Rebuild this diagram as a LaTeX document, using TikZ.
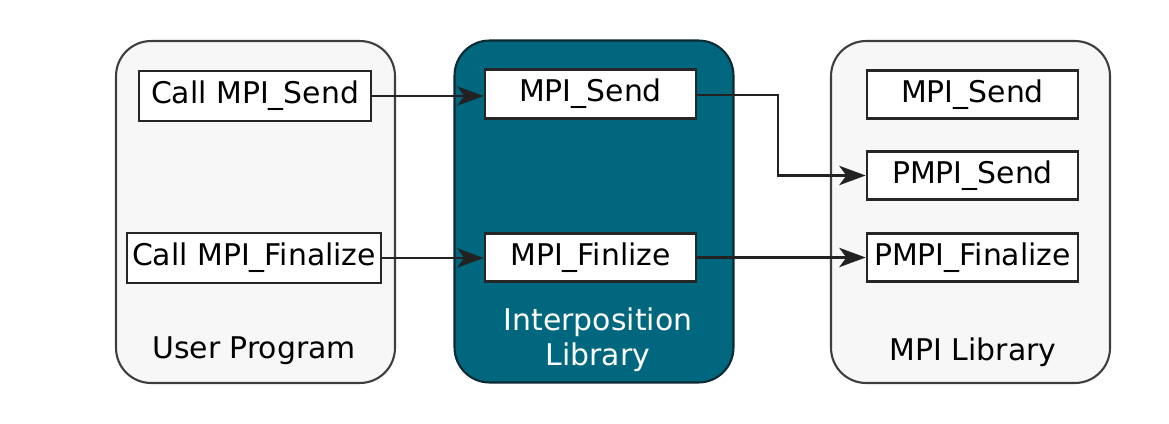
\documentclass[tikz,border=0pt]{standalone}
\usepackage{fontspec}
\setmainfont{DejaVu Sans}
\usetikzlibrary{arrows.meta}
\pgfdeclarelayer{boxlayer}
\pgfdeclarelayer{edgelayer}
\pgfdeclarelayer{nodelayer}
\pgfsetlayers{boxlayer,edgelayer,nodelayer,main}
\definecolor{paneback}{HTML}{F7F7F7}
\definecolor{paneline}{HTML}{3E3E3E}
\definecolor{interpfill}{HTML}{00677F}
\definecolor{interpline}{HTML}{0B2A33}
\definecolor{arrowline}{HTML}{222222}
\tikzstyle{pane}=[rectangle, rounded corners=0.7cm, fill=paneback, draw=paneline, line width=1.2pt, minimum width=5.58cm, minimum height=6.84cm]
\tikzstyle{interppane}=[pane, fill=interpfill, draw=interpline]
\tikzstyle{func}=[rectangle, fill=white, draw=black!85, line width=1.6pt, inner sep=0pt, minimum width=4.22cm, minimum height=0.97cm, font=\fontsize{17}{20}\selectfont]
\tikzstyle{panelabel}=[font=\fontsize{17}{20}\selectfont, align=center]
\tikzstyle{edge}=[draw=arrowline, line width=1.4pt, -{Stealth[length=15pt, width=11pt, inset=4pt]}]

\begin{document}
\begin{tikzpicture}[x=0.02cm, y=-0.02cm]
			\useasboundingbox (0, 0) rectangle (1169, 423);
			\begin{pgfonlayer}{boxlayer}
			\node [style=pane] (u) at (255.5, 212) {};
			\node [style=interppane] (i) at (594, 211.5) {};
			\node [style=pane] (m) at (970.5, 212) {};
			\end{pgfonlayer}
			\begin{pgfonlayer}{nodelayer}
			\node [style=func, minimum width=4.64cm, minimum height=1cm] (0) at (255, 96) {Call MPI\_Send};
			\node [style=func, minimum width=5.08cm, minimum height=1cm] (1) at (254, 258) {Call MPI\_Finalize};
			\node [style=func] (2) at (590.5, 94) {MPI\_Send};
			\node [style=func] (3) at (590.5, 257.5) {MPI\_Finlize};
			\node [style=func] (4) at (972.5, 94.5) {MPI\_Send};
			\node [style=func] (5) at (972.5, 175.5) {PMPI\_Send};
			\node [style=func] (6) at (972.5, 257.5) {PMPI\_Finalize};
			\node [style=panelabel] (7) at (254, 351) {User Program};
			\node [style=panelabel, text=white] (8) at (598, 340) {Interposition\\Library};
			\node [style=panelabel] (9) at (973, 352) {MPI Library};
			\coordinate (bend) at (778, 95);
			\end{pgfonlayer}
			\begin{pgfonlayer}{edgelayer}
			\draw [style=edge] (0.east) to (0.east -| 2.west);
			\draw [style=edge] (1.east) to (1.east -| 3.west);
			\draw [style=edge] (2.east |- bend) -- (bend) |- (5.west);
			\draw [style=edge] (3.east) to (6.west);
			\end{pgfonlayer}
\end{tikzpicture}
\end{document}
